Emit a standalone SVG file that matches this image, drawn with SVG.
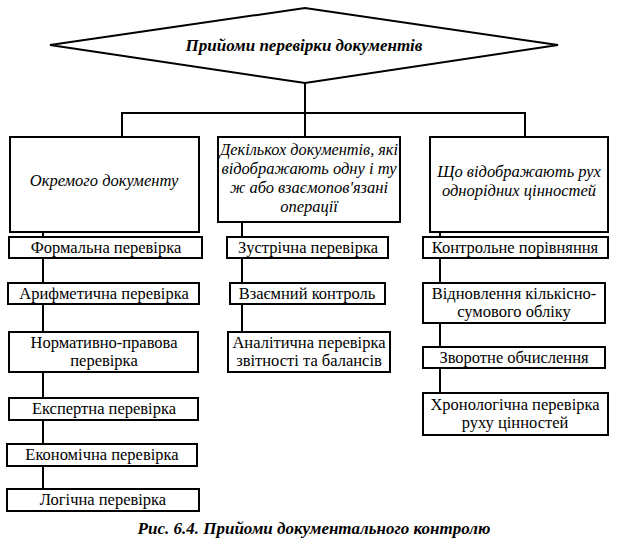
<svg xmlns="http://www.w3.org/2000/svg" width="625" height="543" viewBox="0 0 625 543">
<style>
rect{fill:#fff;stroke:#000;stroke-width:2}
.c line,.c path{stroke:#000;stroke-width:2;fill:none}
text{text-anchor:middle;fill:#000;font-size:16.5px}
.i{font-style:italic}
.b{font-weight:bold;font-style:italic;font-size:17px}
</style>
<rect x="0" y="0" width="625" height="543" style="fill:#fff;stroke:none"/>
<g class="c" id="connectors">
<line x1="305" y1="83" x2="305" y2="137"/>
<path d="M122,137 V113 H525 V137"/>
<line x1="43" y1="232" x2="43" y2="489"/>
<line x1="242" y1="222" x2="242" y2="332"/>
<line x1="440" y1="232" x2="440" y2="393"/>
</g>
<g id="root">
<polygon points="50,45 305,8 558,45 305,83" style="fill:#fff;stroke:#000;stroke-width:2"/>
<text class="b" font-family="Liberation Serif" x="304" y="51">Прийоми перевірки документів</text>
</g>
<g id="h1"><rect x="10" y="137" width="189" height="95"/><text class="i" font-family="Liberation Serif" x="104" y="186">Окремого документу</text></g>
<g id="h2"><rect x="218" y="137" width="182" height="85"/>
<text class="i" font-family="Liberation Serif" x="309" y="155" textLength="178" lengthAdjust="spacingAndGlyphs">Декількох документів, які</text>
<text class="i" font-family="Liberation Serif" x="309" y="174">відображають одну і ту</text>
<text class="i" font-family="Liberation Serif" x="309" y="193">ж або взаємопов'язані</text>
<text class="i" font-family="Liberation Serif" x="309" y="212">операції</text></g>
<g id="h3"><rect x="430" y="137" width="178" height="95"/>
<text class="i" font-family="Liberation Serif" x="519" y="177">Що відображають рух</text>
<text class="i" font-family="Liberation Serif" x="519" y="196">однорідних цінностей</text></g>

<g id="a1"><rect x="9" y="237" width="193" height="21"/><text font-family="Liberation Serif" x="106" y="253">Формальна перевірка</text></g>
<g id="a2"><rect x="8" y="283" width="191" height="21"/><text font-family="Liberation Serif" x="104" y="299">Арифметична перевірка</text></g>
<g id="a3"><rect x="9" y="332" width="189" height="40"/><text font-family="Liberation Serif" x="104" y="348">Нормативно-правова</text><text font-family="Liberation Serif" x="104" y="366">перевірка</text></g>
<g id="a4"><rect x="9" y="398" width="189" height="22"/><text font-family="Liberation Serif" x="104" y="414">Експертна перевірка</text></g>
<g id="a5"><rect x="7" y="444" width="190" height="22"/><text font-family="Liberation Serif" x="102" y="460">Економічна перевірка</text></g>
<g id="a6"><rect x="7" y="489" width="192" height="22"/><text font-family="Liberation Serif" x="103" y="505">Логічна перевірка</text></g>

<g id="b1"><rect x="227" y="237" width="161" height="21"/><text font-family="Liberation Serif" x="308" y="253">Зустрічна перевірка</text></g>
<g id="b2"><rect x="230" y="283" width="155" height="21"/><text font-family="Liberation Serif" x="307" y="299">Взаємний контроль</text></g>
<g id="b3"><rect x="228" y="332" width="162" height="40"/><text font-family="Liberation Serif" x="309" y="348">Аналітична перевірка</text><text font-family="Liberation Serif" x="309" y="366">звітності та балансів</text></g>

<g id="c1"><rect x="423" y="237" width="185" height="21"/><text font-family="Liberation Serif" x="515" y="253">Контрольне порівняння</text></g>
<g id="c2"><rect x="423" y="283" width="182" height="40"/><text font-family="Liberation Serif" x="514" y="299">Відновлення кількісно-</text><text font-family="Liberation Serif" x="514" y="317">сумового обліку</text></g>
<g id="c3"><rect x="423" y="347" width="182" height="21"/><text font-family="Liberation Serif" x="514" y="363">Зворотне обчислення</text></g>
<g id="c4"><rect x="423" y="393" width="185" height="42"/><text font-family="Liberation Serif" x="515" y="410">Хронологічна перевірка</text><text font-family="Liberation Serif" x="515" y="428">руху цінностей</text></g>

<text class="b" font-family="Liberation Serif" x="314" y="534">Рис. 6.4. Прийоми документального контролю</text>
</svg>
